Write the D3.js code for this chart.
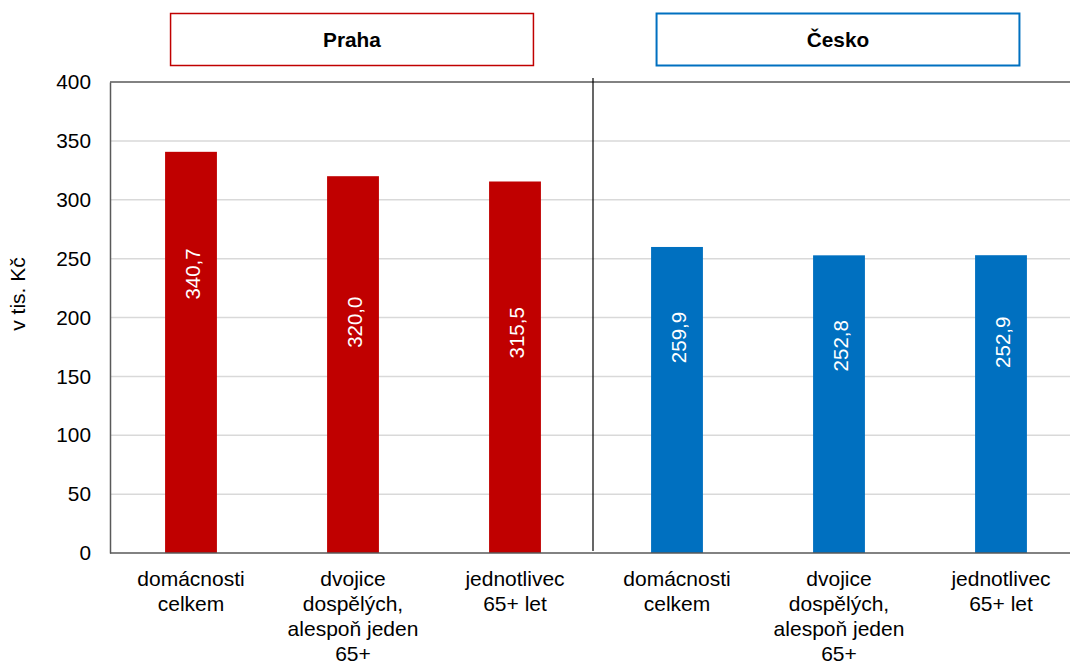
<!DOCTYPE html>
<html><head><meta charset="utf-8">
<script src="https://cdn.jsdelivr.net/npm/d3@7/dist/d3.min.js"></script>
<style>
html,body{margin:0;padding:0;background:#fff;}
svg{display:block;font-family:"Liberation Sans",Arial,sans-serif;}
</style></head>
<body><svg id="c" width="1070" height="661"></svg>
<script>
// ---- data ----
const groups = ["Praha", "Česko"];
const categories = [
  ["domácnosti", "celkem"],
  ["dvojice", "dospělých,", "alespoň jeden", "65+"],
  ["jednotlivec", "65+ let"]
];
const prahaValues = [340.7, 320.0, 315.5];
const ceskoValues = [259.9, 252.8, 252.9];
const prahaLabelAt = [237, 196, 187];   // data-unit position of value labels
const ceskoLabelAt = [183, 176, 179];
const yTicks = [0, 50, 100, 150, 200, 250, 300, 350, 400];
const yTitle = "v tis. Kč";
const colors = {"Praha": "#C00000", "Česko": "#0070C0"};

(function () {
// ---- build rows ----
const rows = [];
groups.forEach((g, gi) => {
  const vals = gi === 0 ? prahaValues : ceskoValues;
  const la = gi === 0 ? prahaLabelAt : ceskoLabelAt;
  categories.forEach((c, ci) => rows.push({key: g + ci, group: g, cat: c, value: vals[ci], labelAt: la[ci]}));
});

const svg = d3.select("#c");
const mLeft = 110, mTop = 82, mBottom = 553, mRight = 1082;

const x = d3.scaleBand().domain(rows.map(d => d.key)).range([mLeft, mRight])
  .paddingInner(0.68).paddingOuter(0.34);
const y = d3.scaleLinear().domain([0, 400]).range([mBottom, mTop]);
const step = x.step();

// gridlines
svg.append("g").selectAll("line").data(yTicks.filter(t => t > 0 && t < 400)).join("line")
  .attr("x1", mLeft).attr("x2", 1070).attr("y1", d => y(d)).attr("y2", d => y(d))
  .attr("stroke", "#d9d9d9").attr("stroke-width", 1.5);

// bars
svg.append("g").selectAll("rect").data(rows).join("rect")
  .attr("x", d => x(d.key)).attr("width", x.bandwidth())
  .attr("y", d => y(d.value)).attr("height", d => y(0) - y(d.value))
  .attr("fill", d => colors[d.group]);

// frame: top, bottom
svg.append("line").attr("x1", mLeft).attr("x2", 1070).attr("y1", y(400)).attr("y2", y(400))
  .attr("stroke", "#595959").attr("stroke-width", 1.5);
svg.append("line").attr("x1", mLeft).attr("x2", 1070).attr("y1", y(0)).attr("y2", y(0))
  .attr("stroke", "#595959").attr("stroke-width", 1.5);

// y axis
const yAxis = d3.axisLeft(y).tickValues(yTicks).tickSize(0).tickPadding(19);
const ya = svg.append("g").attr("transform", `translate(${mLeft},0)`).call(yAxis);
ya.select(".domain").attr("stroke", "#595959").attr("stroke-width", 1.5);
ya.selectAll("text").attr("font-size", 20.8).attr("fill", "#000")
  .attr("font-family", '"Liberation Sans",Arial,sans-serif');

// y title
svg.append("text").attr("transform", "translate(17,294) rotate(-90)")
  .attr("text-anchor", "middle").attr("dominant-baseline", "central")
  .attr("font-size", 21).attr("fill", "#000").text(yTitle);

// separator
const sepX = mLeft + 3 * step - 3;
svg.append("line").attr("x1", sepX).attr("x2", sepX).attr("y1", 78).attr("y2", 551)
  .attr("stroke", "#000").attr("stroke-width", 1.2);

// value labels
svg.append("g").selectAll("text").data(rows).join("text")
  .attr("transform", d => `translate(${x(d.key) + x.bandwidth() / 2 + 1},${y(d.labelAt)}) rotate(-90)`)
  .attr("text-anchor", "middle").attr("dominant-baseline", "central")
  .attr("font-size", 20.5).attr("fill", "#fff")
  .text(d => d.value.toFixed(1).replace(".", ","));

// category labels
const cl = svg.append("g").selectAll("text").data(rows).join("text")
  .attr("x", d => x(d.key) + x.bandwidth() / 2).attr("y", 586)
  .attr("text-anchor", "middle").attr("font-size", 21).attr("fill", "#000");
cl.selectAll("tspan").data(d => d.cat.map(t => ({t, x: x(d.key) + x.bandwidth() / 2}))).join("tspan")
  .attr("x", d => d.x).attr("dy", (d, i) => i === 0 ? 0 : 25).text(d => d.t);

// group header boxes
groups.forEach((g, gi) => {
  const cx = mLeft + step * (1.5 + 3 * gi) - 1;
  const w = step * 2.24;
  svg.append("rect").attr("x", cx - w / 2).attr("y", 13.5).attr("width", w).attr("height", 52)
    .attr("fill", "#fff").attr("stroke", colors[g]).attr("stroke-width", gi === 0 ? 1.5 : 2);
  svg.append("text").attr("x", cx).attr("y", 39).attr("text-anchor", "middle")
    .attr("dominant-baseline", "central").attr("font-size", 20.8).attr("font-weight", "bold")
    .attr("fill", "#000").text(g);
});
})();
</script></body></html>
